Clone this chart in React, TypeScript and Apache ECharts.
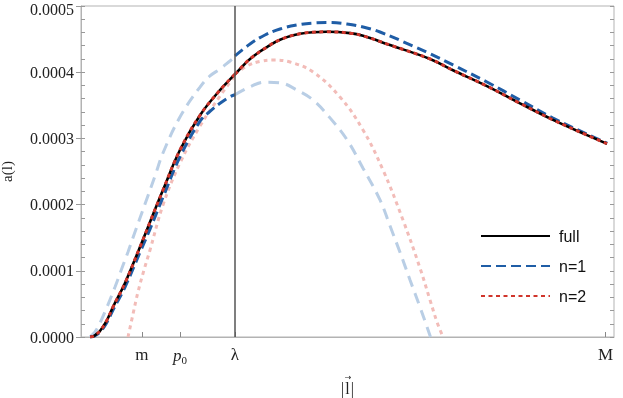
import React, { useEffect, useRef } from "react";
import * as echarts from "echarts";

// x in plot units (axis 0..100), y = a(l)
const X_TICK_VALUES = [11.44, 18.57, 28.89, 98.4];
const X_TICK_LABELS = ["m", "p0", "λ", "M"];
const LAMBDA = 28.89;
const Y_TICKS = [0, 0.0001, 0.0002, 0.0003, 0.0004, 0.0005];

const FULL = [
  [1.69, 0], [2.25, 0.0000008], [2.81, 0.0000038], [3.56, 0.0000091], [4.69, 0.0000227],
  [6.0, 0.0000453], [8.26, 0.0000816], [11.07, 0.000136], [12.95, 0.0001737], [15.38, 0.000222],
  [18.57, 0.0002825], [22.33, 0.000335], [26.08, 0.000373], [28.89, 0.000397], [31.71, 0.00042],
  [34.9, 0.000438], [37.34, 0.000449], [41.09, 0.000458], [46.15, 0.000461], [50.47, 0.000459],
  [52.91, 0.000455], [57.97, 0.000441], [65.48, 0.00042], [69.79, 0.000403], [76.17, 0.000379],
  [82.36, 0.000353], [88.56, 0.000328], [94.93, 0.000305], [98.69, 0.000292],
];

const N1_LEFT = [
  [1.69, 0], [2.25, 0.0000006], [2.81, 0.000003], [3.56, 0.0000076], [4.69, 0.0000196],
  [6.0, 0.0000408], [8.26, 0.0000755], [11.07, 0.000128], [12.95, 0.000163], [15.38, 0.000211],
  [18.57, 0.000272], [22.33, 0.000326], [24.2, 0.000341], [26.08, 0.000353], [27.95, 0.000363],
  [28.89, 0.000366],
];
const N1_RIGHT = [
  [28.89, 0.0004245], [31.71, 0.0004426], [34.52, 0.0004562], [37.34, 0.0004653], [40.53, 0.0004713],
  [43.53, 0.0004743], [46.72, 0.000475], [49.91, 0.0004728], [52.91, 0.0004683], [56.1, 0.0004607],
  [62.29, 0.0004396], [65.48, 0.000428], [69.79, 0.000411], [76.17, 0.0003852], [82.36, 0.000358],
  [88.56, 0.0003308], [94.93, 0.0003066], [98.69, 0.000293],
];
const N1_EXT_LEFT = [
  [1.69, 0], [2.63, 0.0000076], [3.56, 0.0000211], [4.88, 0.0000453], [6.38, 0.0000755],
  [7.69, 0.0001042], [8.82, 0.0001284], [10.13, 0.0001586], [12.01, 0.0002009], [13.88, 0.0002432],
  [15.38, 0.0002779], [18.57, 0.0003323], [22.33, 0.0003776], [24.2, 0.0003943], [26.08, 0.0004048],
  [27.95, 0.0004169], [28.89, 0.000423],
];
const N1_EXT_RIGHT = [
  [28.89, 0.000366], [31.71, 0.000378], [34.52, 0.000385], [37.34, 0.000384], [40.53, 0.000373],
  [43.53, 0.000358], [46.72, 0.000331], [49.91, 0.000298], [52.91, 0.000255], [56.1, 0.000207],
  [57.97, 0.000168], [59.85, 0.000128], [61.73, 0.0000861], [63.6, 0.0000453], [64.92, 0.0000151],
  [65.57, 0],
];

const N2_LEFT = [
  [1.69, 0], [2.25, 0.0000008], [2.81, 0.0000038], [3.56, 0.0000091], [4.69, 0.0000227],
  [6.0, 0.0000453], [8.26, 0.0000816], [11.07, 0.000136], [12.95, 0.0001737], [15.38, 0.000222],
  [18.57, 0.0002825], [22.33, 0.000335], [26.08, 0.000373], [28.89, 0.000397],
];
const N2_RIGHT = [
  [28.89, 0.000397], [31.71, 0.00042], [34.9, 0.000438], [37.34, 0.000449], [41.09, 0.000458],
  [46.15, 0.000461], [50.47, 0.000459], [52.91, 0.000455], [57.97, 0.000441], [65.48, 0.00042],
  [69.79, 0.000403], [76.17, 0.000379], [82.36, 0.000353], [88.56, 0.000328], [94.93, 0.000305],
  [98.69, 0.000292],
];
const N2_EXT_LEFT = [
  [8.82, 0], [9.76, 0.0000347], [10.69, 0.000068], [11.82, 0.0001012], [12.95, 0.0001314],
  [15.38, 0.0001994], [18.57, 0.0002628], [22.33, 0.0003187], [26.08, 0.000364], [28.89, 0.000395],
];
const N2_EXT_RIGHT = [
  [28.89, 0.000397], [31.14, 0.0004094], [33.58, 0.0004162], [36.02, 0.0004184], [39.21, 0.0004154],
  [43.53, 0.0004003], [48.59, 0.0003625], [52.91, 0.0003127], [56.66, 0.0002523], [60.41, 0.0001767],
  [63.6, 0.0001042], [65.48, 0.0000559], [66.79, 0.0000227], [67.92, 0],
];

const BLUE = "#1f5da6";
const BLUE_LIGHT = "#b9cee5";
const RED = "#d0352b";
const RED_LIGHT = "#f2bcb8";
const SERIF = "'Liberation Serif', 'DejaVu Serif', serif";
const SANS = "'Liberation Sans', Arial, sans-serif";

function lineSeries(name: string, data: number[][], color: string, width: number, type: any, z: number, extra: any = {}) {
  return {
    name,
    type: "line",
    data,
    xAxisIndex: 0,
    yAxisIndex: 0,
    showSymbol: false,
    symbol: "none",
    smooth: 0.4,
    z,
    lineStyle: { color, width, type, cap: "butt" },
    itemStyle: { color },
    silent: true,
    ...extra,
  };
}

export default function App() {
  const ref = useRef<HTMLDivElement>(null);
  useEffect(() => {
    if (!ref.current) return;
    const chart = echarts.init(ref.current, undefined, { renderer: "svg" });
    const yMax = Y_TICKS[Y_TICKS.length - 1];
    const option: any = {
      animation: false,
      grid: {
        left: 81, right: 9, top: 6, bottom: 61,
        outerBoundsMode: "none",
        containLabel: false,
        show: true, borderColor: "#b3b3b3", borderWidth: 1,
      },
      legend: {
        data: ["full", "n=1", "n=2"],
        orient: "vertical",
        left: 475,
        top: 223,
        itemWidth: 69,
        itemHeight: 14,
        itemGap: 14,
        itemStyle: { opacity: 0 },
        textStyle: { fontFamily: SANS, fontSize: 16, color: "#111", padding: [0, 0, 0, 4] },
        selectedMode: false,
      },
      xAxis: [{
        type: "value",
        min: 0, max: 100,
        name: "{arr|→}\n{bar||}{l|l}{bar||}",
        nameLocation: "middle",
        nameGap: 37,
        nameTextStyle: {
          fontFamily: SERIF, fontSize: 16, color: "#222", align: "center",
          rich: {
            arr: { fontFamily: "'DejaVu Sans', sans-serif", fontSize: 8, lineHeight: 6, color: "#222", padding: [0, 0, 0, 1] },
            bar: { fontFamily: SERIF, fontSize: 16, lineHeight: 17, color: "#222", padding: [0, 1, 0, 1] },
            l: { fontFamily: SERIF, fontSize: 16, lineHeight: 17, color: "#222" },
          },
        },
        splitLine: { show: false },
        axisLine: { show: true, lineStyle: { color: "#b3b3b3", width: 1 } },
        axisTick: { show: true, inside: true, length: 5, customValues: X_TICK_VALUES, lineStyle: { color: "#888" } },
        axisLabel: {
          show: true,
          customValues: X_TICK_VALUES,
          margin: 9,
          color: "#222",
          fontFamily: SERIF,
          fontSize: 17,
          formatter: (v: number) => {
            const i = X_TICK_VALUES.findIndex((t) => Math.abs(t - v) < 1e-6);
            const s = i >= 0 ? X_TICK_LABELS[i] : "";
            if (s === "p0") return "{p|p}{s|0}";
            return s;
          },
          rich: {
            p: { fontFamily: SERIF, fontStyle: "italic", fontSize: 17, color: "#222" },
            s: { fontFamily: SERIF, fontSize: 11, color: "#222", padding: [8, 0, 0, 0] },
          },
        },
      }],
      yAxis: [
        {
          type: "value", position: "left",
          min: 0, max: yMax, interval: 0.0001,
          name: "a(l)",
          nameLocation: "middle", nameRotate: 90, nameGap: 67,
          nameTextStyle: { fontFamily: SERIF, fontSize: 15, color: "#222" },
          splitLine: { show: false },
          axisLine: { show: true, lineStyle: { color: "#b3b3b3" } },
          axisTick: { show: true, inside: false, length: 5, lineStyle: { color: "#999" } },
          axisLabel: {
            margin: 7, color: "#222", fontFamily: SERIF, fontSize: 16,
            formatter: (v: number) => (Math.abs(v - yMax) < 1e-12 ? "{top|" + v.toFixed(4) + "}" : v.toFixed(4)),
            rich: {
              top: { fontFamily: SERIF, fontSize: 16, color: "#222", padding: [7, 0, 0, 0] },
            },
          },
        },
        {
          type: "value", position: "left", offset: 0,
          min: 0, max: 0.0005, interval: 0.00002,
          splitLine: { show: false },
          axisLine: { show: false },
          axisTick: { show: true, inside: true, length: 4, lineStyle: { color: "#999" } },
          axisLabel: { show: false },
        },
        {
          type: "value", position: "right", offset: 0,
          min: 0, max: 0.0005, interval: 0.00002,
          splitLine: { show: false },
          axisLine: { show: false },
          axisTick: { show: true, inside: true, length: 4, lineStyle: { color: "#999" } },
          axisLabel: { show: false },
        },
      ],
      series: [
        lineSeries("n=1 ext", N1_EXT_LEFT, BLUE_LIGHT, 3, [11, 7], 1),
        lineSeries("n=1 ext", N1_EXT_RIGHT, BLUE_LIGHT, 3, [11, 7], 1),
        lineSeries("n=2 ext", N2_EXT_LEFT, RED_LIGHT, 3, [4, 4], 1),
        lineSeries("n=2 ext", N2_EXT_RIGHT, RED_LIGHT, 3, [4, 4], 1),
        lineSeries("n=1", N1_LEFT, BLUE, 3, [10, 5], 2),
        lineSeries("n=1", N1_RIGHT, BLUE, 3, [10, 5], 2),
        lineSeries("full", FULL, "#000000", 2.6, "solid", 3, {
          markLine: {
            silent: true,
            symbol: "none",
            label: { show: false },
            lineStyle: { color: "#555", width: 1.5, type: "solid" },
            data: [{ xAxis: LAMBDA }],
          },
        }),
        lineSeries("n=2", N2_LEFT, RED, 3, [4, 3.5], 4),
        lineSeries("n=2", N2_RIGHT, RED, 3, [4, 3.5], 4),
      ],
    };
    chart.setOption(option);
    return () => chart.dispose();
  }, []);
  return <div ref={ref} style={{ position: "fixed", left: 0, top: 0, width: 623, height: 398 }} />;
}
